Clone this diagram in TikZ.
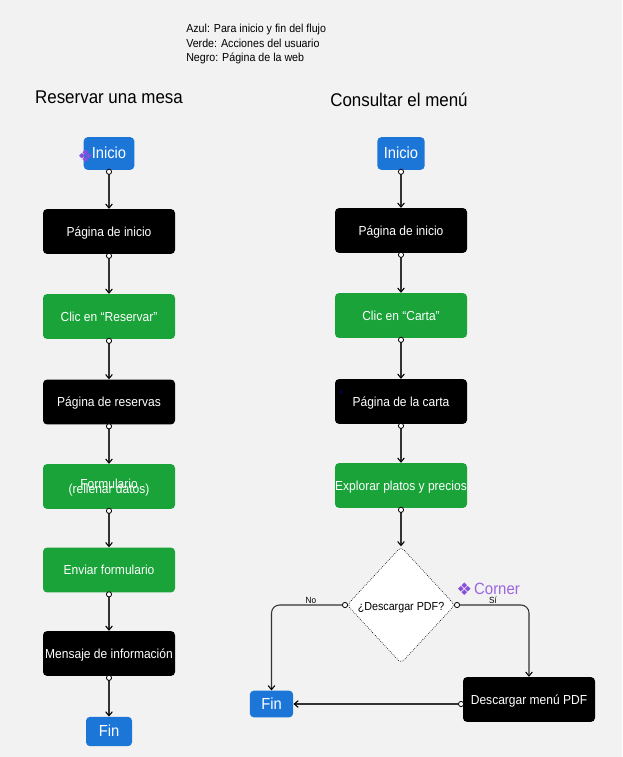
\documentclass[tikz,border=0pt]{standalone}
\usepackage{fontspec}
\setmainfont[FakeStretch=0.92]{Liberation Sans}
\newfontfamily\symfont{DejaVu Sans}
\usetikzlibrary{arrows.meta,shapes.geometric}
\definecolor{bgc}{HTML}{F2F2F2}
\definecolor{bluec}{HTML}{1C76D8}
\definecolor{greenc}{HTML}{19A339}
\definecolor{purplec}{HTML}{8A4FD8}
\definecolor{cornerc}{HTML}{9A66E0}
\definecolor{linec}{HTML}{333333}
\tikzset{
  x=0.75pt,y=-0.75pt,
  base/.style={rounded corners=3pt,inner sep=0pt,align=center,text=white,text height=7pt,text depth=0pt,font=\fontsize{9.8pt}{11pt}\selectfont},
  wbox/.style={base,minimum width=99pt,minimum height=33.6pt},
  blackbox/.style={wbox,fill=black},
  greenbox/.style={wbox,fill=greenc},
  bluebox/.style={base,fill=bluec,text height=8.2pt,font=\fontsize{12pt}{13pt}\selectfont},
  title/.style={inner sep=0pt,text=black,font=\fontsize{13.8pt}{17pt}\selectfont},
  overtext/.style={inner sep=0pt,text=white,font=\fontsize{9.8pt}{11pt}\selectfont},
  conn/.style={draw=linec,line width=0.8pt,shorten <=-1pt,
    {Circle[open,fill=white,length=4.5pt,width=4.5pt,line width=0.6pt,black]}-{Straight Barb[length=3pt,width=5pt,black]}},
  condbox/.style={diamond,draw=black,densely dotted,line width=0.5pt,fill=white,rounded corners=3pt,inner sep=0pt,aspect=0.93,minimum width=81pt,minimum height=87.5pt,text height=7.5pt,text depth=0pt,font=\fontsize{8.75pt}{10pt}\selectfont,text=black},
  small/.style={inner sep=0pt,text=black,font=\fontsize{6.7pt}{7.5pt}\selectfont},
  legend/.style={inner sep=0pt,anchor=west,text=black,font=\fontsize{8.7pt}{9pt}\selectfont},
  corner/.style={inner sep=0pt,text=cornerc,font=\fontsize{12.2pt}{12pt}\selectfont},
  glyph/.style={inner sep=0pt,text=purplec,font=\symfont\fontsize{13pt}{14pt}\selectfont}
}
\begin{document}
\begin{tikzpicture}
\path[use as bounding box,fill=bgc] (0,0) rectangle (622,757);
% legend
\node[legend] (l1) at (186,29) {Azul: Para inicio y fin del flujo};
\node[legend] (l2) at (186,43.5) {Verde: Acciones del usuario};
\node[legend] (l3) at (186,58) {Negro: Página de la web};
% titles
\node[title] (t1) at (109,97.5) {Reservar una mesa};
\node[title] (t2) at (399,99.5) {Consultar el menú};
% left column
\node[bluebox,minimum width=38pt,minimum height=24.5pt] (a0) at (109,153.5) {Inicio};
\node[blackbox] (a1) at (109,231.5) {Página de inicio};
\node[greenbox] (a2) at (109,316.5) {Clic en “Reservar”};
\node[blackbox] (a3) at (109,402) {Página de reservas};
\node[greenbox] (a4) at (109,486.5) {};
\node[overtext] (a4a) at (109,483.5) {Formulario};
\node[overtext] (a4b) at (109,490.5) {(rellenar datos)};
\node[greenbox] (a5) at (109,570) {Enviar formulario};
\node[blackbox] (a6) at (109,653.5) {Mensaje de información};
\node[bluebox,minimum width=34.5pt,minimum height=22pt] (a7) at (109,731.5) {Fin};
% right column
\node[bluebox,minimum width=35.5pt,minimum height=24.5pt] (b0) at (401,153.5) {Inicio};
\node[blackbox] (b1) at (401,230.5) {Página de inicio};
\node[greenbox] (b2) at (401,315.5) {Clic en “Carta”};
\node[blackbox] (b3) at (401,401.5) {Página de la carta};
\node[greenbox] (b4) at (401,485.5) {Explorar platos y precios};
\node[condbox] (d) at (401,605) {¿Descargar PDF?};
\node[bluebox,minimum width=32.5pt,minimum height=20pt] (f) at (271.5,704) {Fin};
\node[blackbox] (g) at (529,699.5) {Descargar menú PDF};
% connectors
\foreach \p/\q in {a0/a1,a1/a2,a2/a3,a3/a4,a4/a5,a5/a6,a6/a7,b0/b1,b1/b2,b2/b3,b3/b4,b4/d}
  \draw[conn] (\p.south) -- (\q.north);
\draw[conn,rounded corners=6pt] (d.west) -- (f.north |- d.west) -- (f.north);
\draw[conn,rounded corners=6pt] (d.east) -- (g.north |- d.east) -- (g.north);
\draw[conn] (g.west |- f.east) -- (f.east);
\node[small] (no) at (311,600) {No};
\node[small] (si) at (493,600) {Sí};
% marks
\node[glyph] (m1) at (85.5,156) {❖};
\node[glyph] (m2a) at (464.5,589) {❖};
\node[corner] (m2) at (497,589) {Corner};
\node[fill=blue!50!black,minimum size=1.5pt,inner sep=0pt] (m3) at (341,392) {};
\end{tikzpicture}
\end{document}
